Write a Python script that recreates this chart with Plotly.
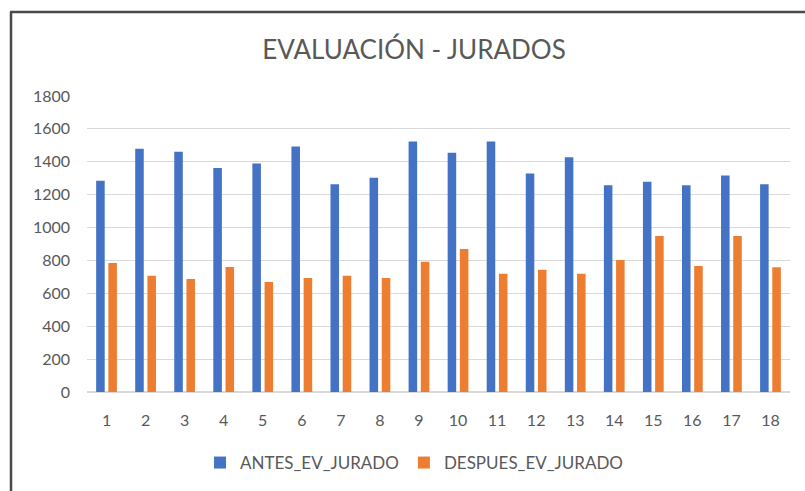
import plotly.graph_objects as go

categories = [str(i) for i in range(1, 19)]
antes = [1285, 1479, 1461, 1362, 1390, 1493, 1264, 1303, 1524,
         1455, 1524, 1329, 1427, 1258, 1279, 1258, 1317, 1264]
despues = [784, 707, 687, 760, 669, 693, 707, 693, 792,
           869, 719, 744, 719, 802, 948, 766, 948, 758]
y_ticks = list(range(0, 1801, 200))

W, H = 805, 491
L, R, T, B = 87, 15, 96, 99
pw, ph = W - L - R, H - T - B

def px_x(x):
    return (x - L) / pw

def px_y(y):
    return (H - B - y) / ph

FONT = "Lato, 'Open Sans', sans-serif"
GREY = "#595959"

fig = go.Figure()
fig.add_trace(go.Bar(x=categories, y=antes, name="ANTES_EV_JURADO",
                     marker=dict(color="#4472C4", line=dict(width=0))))
fig.add_trace(go.Bar(x=categories, y=despues, name="DESPUES_EV_JURADO",
                     marker=dict(color="#ED7D31", line=dict(width=0))))

fig.update_layout(
    width=W, height=H,
    margin=dict(l=L, r=R, t=T, b=B, pad=0),
    paper_bgcolor="white", plot_bgcolor="white",
    barmode="group", bargap=0.375, bargroupgap=0.30,
    font=dict(family=FONT, color=GREY, size=16),
    title=dict(text="EVALUACIÓN - JURADOS", x=414 / W, xref="container",
               xanchor="center", y=1 - 50 / H, yref="container", yanchor="middle",
               font=dict(family=FONT, size=26, color=GREY)),
    showlegend=True,
    legend=dict(orientation="h", x=414 / W, xref="container", xanchor="center",
                y=1 - 463 / H, yref="container", yanchor="middle",
                font=dict(family=FONT, size=17, color=GREY),
                itemwidth=30, traceorder="normal"),
    xaxis=dict(type="category", showgrid=False, showline=True, linecolor="#D9D9D9",
               linewidth=1, ticks="", tickfont=dict(size=16, color=GREY),
               ticklabelstandoff=14),
    yaxis=dict(range=[0, 1800], tickvals=y_ticks, showgrid=True, gridcolor="#D9D9D9",
               gridwidth=1, zeroline=True, zerolinecolor="#D9D9D9", showline=False,
               ticks="", tickfont=dict(size=16, color=GREY), ticklabelstandoff=16),
    shapes=[
        dict(type="line", xref="paper", yref="paper",
             x0=px_x(11), x1=px_x(11), y0=px_y(12), y1=px_y(495),
             line=dict(color="#4a4a4a", width=2.5)),
        dict(type="line", xref="paper", yref="paper",
             x0=px_x(10), x1=px_x(810), y0=px_y(12), y1=px_y(12),
             line=dict(color="#4a4a4a", width=2.5)),
    ],
)

fig.write_html("out.html",
               config={"displayModeBar": False},
               post_script="document.body.style.margin='0';document.body.style.overflow='hidden';")
